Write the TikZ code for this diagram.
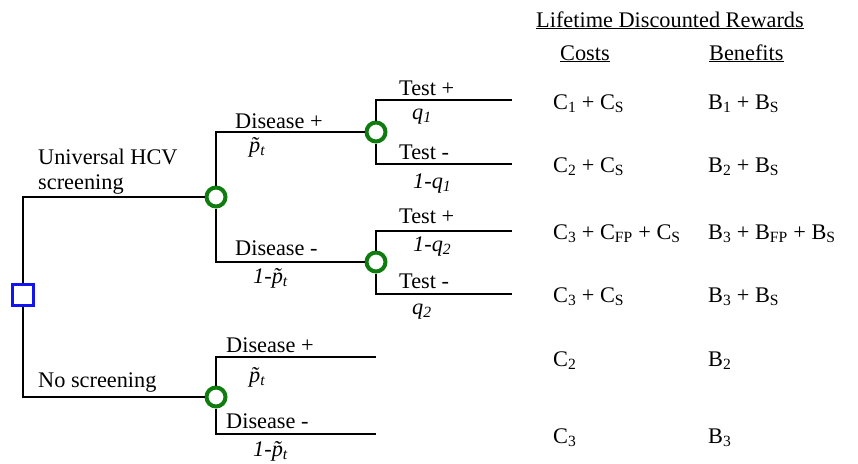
\documentclass[tikz,border=0pt]{standalone}
\usepackage{fontspec}
\setmainfont{Liberation Serif}
\definecolor{chancegreen}{RGB}{16,124,16}
\definecolor{decisionblue}{RGB}{20,20,240}
\newcommand{\pt}{{\itshape\~{p}\textsubscript{t}}}
\begin{document}
\begin{tikzpicture}[x=1pt,y=-1pt,
  font=\fontsize{22.3}{26}\selectfont,
  branch/.style={line width=2.5pt, black},
  chance/.style={circle, draw=chancegreen, line width=4pt, fill=white,
                 minimum size=19pt, inner sep=0pt},
  decision/.style={rectangle, draw=decisionblue, line width=2.8pt, fill=white,
                   minimum size=20.5pt, inner sep=0pt},
  lbl/.style={anchor=base west, inner sep=0pt},
]
\useasboundingbox (0,0) rectangle (858,463);

% tree nodes
\node[decision] (root) at (23,295) {};
\node[chance] (cs) at (216,197) {};
\node[chance] (cn) at (216,397) {};
\node[chance] (tp) at (376,132) {};
\node[chance] (tn) at (376,262) {};
\coordinate (l1) at (512,100);
\coordinate (l2) at (512,164);
\coordinate (l3) at (512,231);
\coordinate (l4) at (512,294);
\coordinate (l5) at (376,357);
\coordinate (l6) at (376,434);

% branches
\draw[branch] (root) |- (cs);
\draw[branch] (root) |- (cn);
\draw[branch] (cs) |- (tp);
\draw[branch] (cs) |- (tn);
\draw[branch] (tp) |- (l1);
\draw[branch] (tp) |- (l2);
\draw[branch] (tn) |- (l3);
\draw[branch] (tn) |- (l4);
\draw[branch] (cn) |- (l5);
\draw[branch] (cn) |- (l6);

% strategy labels
\node[lbl] (s1a) at (38,164) {Universal HCV};
\node[lbl] (s1b) at (38,189) {screening};
\node[lbl] (s2) at (38,387) {No screening};

% disease branches
\node[lbl] (d1) at (235,128) {Disease +};
\node[lbl] (d1p) at (249,152) {\pt};
\node[lbl] (d2) at (235,255) {Disease -};
\node[lbl] (d2p) at (253,283) {{\itshape 1-}\pt};
\node[lbl] (d3) at (226,352) {Disease +};
\node[lbl] (d3p) at (249,382) {\pt};
\node[lbl] (d4) at (226,428) {Disease -};
\node[lbl] (d4p) at (253,456) {{\itshape 1-}\pt};

% test branches
\node[lbl] (t1) at (399,95) {Test +};
\node[lbl] (t1p) at (412,119) {\itshape q\textsubscript{1}};
\node[lbl] (t2) at (399,159) {Test -};
\node[lbl] (t2p) at (413,188) {\itshape 1-q\textsubscript{1}};
\node[lbl] (t3) at (399,223) {Test +};
\node[lbl] (t3p) at (413,251) {\itshape 1-q\textsubscript{2}};
\node[lbl] (t4) at (399,288) {Test -};
\node[lbl] (t4p) at (412,314) {\itshape q\textsubscript{2}};

% reward table
\node[lbl] (hdr) at (536,27) {\underline{Lifetime Discounted Rewards}};
\node[lbl] (hc) at (560,60) {\underline{Costs}};
\node[lbl] (hb) at (709,60) {\underline{Benefits}};

\node[lbl] (c1) at (553,109) {C\textsubscript{1} + C\textsubscript{S}};
\node[lbl] (c2) at (553,172) {C\textsubscript{2} + C\textsubscript{S}};
\node[lbl] (c3) at (553,239) {C\textsubscript{3} + C\textsubscript{FP} + C\textsubscript{S}};
\node[lbl] (c4) at (553,302) {C\textsubscript{3} + C\textsubscript{S}};
\node[lbl] (c5) at (553,366) {C\textsubscript{2}};
\node[lbl] (c6) at (553,443) {C\textsubscript{3}};

\node[lbl] (b1) at (708,109) {B\textsubscript{1} + B\textsubscript{S}};
\node[lbl] (b2) at (708,172) {B\textsubscript{2} + B\textsubscript{S}};
\node[lbl] (b3) at (708,239) {B\textsubscript{3} + B\textsubscript{FP} + B\textsubscript{S}};
\node[lbl] (b4) at (708,302) {B\textsubscript{3} + B\textsubscript{S}};
\node[lbl] (b5) at (708,366) {B\textsubscript{2}};
\node[lbl] (b6) at (708,443) {B\textsubscript{3}};
\end{tikzpicture}
\end{document}
